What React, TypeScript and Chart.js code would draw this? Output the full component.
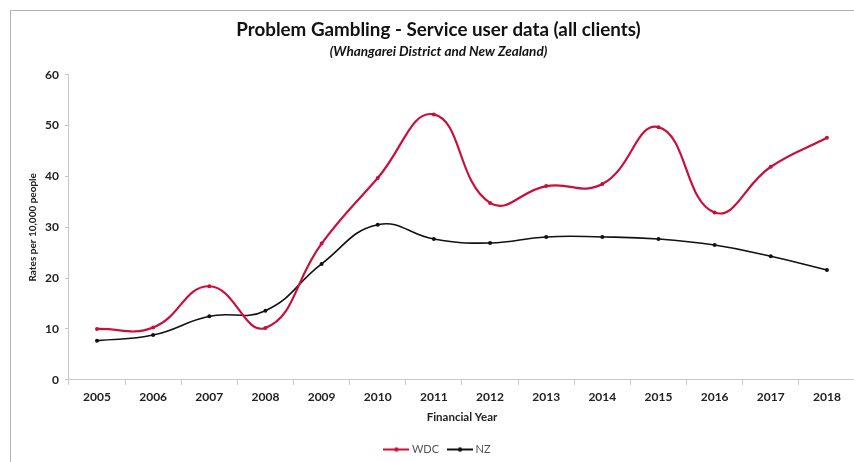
import React, { useEffect, useRef } from "react";
import { Chart, registerables } from "chart.js";

Chart.register(...registerables);

const years = ["2005", "2006", "2007", "2008", "2009", "2010", "2011", "2012", "2013", "2014", "2015", "2016", "2017", "2018"];
const wdc = [10.0, 10.3, 18.4, 10.2, 26.8, 39.7, 52.2, 34.8, 38.1, 38.5, 49.7, 32.9, 41.9, 47.6];
const nz = [7.7, 8.8, 12.5, 13.6, 22.8, 30.5, 27.7, 26.9, 28.1, 28.1, 27.7, 26.5, 24.3, 21.6];
const yTicks = [0, 10, 20, 30, 40, 50, 60];

const FONT = "Lato, 'Open Sans', sans-serif";
const WDC_COLOR = "#C8103A";
const NZ_COLOR = "#111111";

function legendIcon(color: string): HTMLCanvasElement {
  const c = document.createElement("canvas");
  c.width = 26;
  c.height = 8;
  const ctx = c.getContext("2d")!;
  ctx.strokeStyle = color;
  ctx.lineWidth = 2;
  ctx.beginPath();
  ctx.moveTo(0, 4);
  ctx.lineTo(26, 4);
  ctx.stroke();
  ctx.fillStyle = color;
  ctx.beginPath();
  ctx.arc(13, 4, 2.2, 0, Math.PI * 2);
  ctx.fill();
  return c;
}

const frame = {
  id: "frame",
  beforeDraw(chart: any) {
    const ctx = chart.ctx;
    ctx.save();
    ctx.fillStyle = "#ffffff";
    ctx.fillRect(0, 0, chart.width, chart.height);
    ctx.strokeStyle = "#b4b4b4";
    ctx.lineWidth = 1;
    ctx.beginPath();
    ctx.moveTo(10.5, chart.height);
    ctx.lineTo(10.5, 10.5);
    ctx.lineTo(chart.width, 10.5);
    ctx.stroke();
    ctx.restore();
  },
};

export default function App() {
  const ref = useRef<HTMLCanvasElement>(null);
  useEffect(() => {
    const icons = [legendIcon(WDC_COLOR), legendIcon(NZ_COLOR)];
    const chart = new Chart(ref.current!, {
      type: "line",
      data: {
        labels: years,
        datasets: [
          {
            label: "WDC",
            data: wdc,
            borderColor: WDC_COLOR,
            backgroundColor: WDC_COLOR,
            borderWidth: 2.2,
            pointRadius: 2,
            pointBorderWidth: 0,
            tension: 0.45,
          },
          {
            label: "NZ",
            data: nz,
            borderColor: NZ_COLOR,
            backgroundColor: NZ_COLOR,
            borderWidth: 1.6,
            pointRadius: 2,
            pointBorderWidth: 0,
            tension: 0.45,
          },
        ],
      },
      options: {
        responsive: false,
        animation: false,
        devicePixelRatio: 1,
        layout: { padding: { left: 18, right: 0, top: 0, bottom: 0 } },
        plugins: {
          title: {
            display: true,
            text: "Problem Gambling - Service user data (all clients)",
            color: "#111",
            font: { family: FONT, size: 18.8, weight: "bold" },
            padding: { top: 19, bottom: 2 },
          },
          subtitle: {
            display: true,
            text: "(Whangarei District and New Zealand)",
            color: "#111",
            font: { family: FONT, size: 13.5, weight: "bold", style: "italic" },
            padding: { top: 0, bottom: 15 },
          },
          legend: {
            position: "bottom",
            labels: {
              usePointStyle: true,
              pointStyleWidth: 20,
              boxHeight: 8,
              color: "#555",
              font: { family: FONT, size: 11 },
              padding: 11,
              generateLabels: (ch: any) =>
                ch.data.datasets.map((d: any, i: number) => ({
                  text: d.label,
                  pointStyle: icons[i],
                  fillStyle: d.borderColor,
                  strokeStyle: d.borderColor,
                  fontColor: "#555",
                  lineWidth: 0,
                  hidden: false,
                  datasetIndex: i,
                })),
            },
          },
          tooltip: { enabled: false },
        },
        scales: {
          x: {
            offset: true,
            grid: {
              offset: true,
              drawOnChartArea: false,
              drawTicks: true,
              tickLength: 5,
              color: "#c8c8c8",
            },
            border: { color: "#c8c8c8" },
            ticks: {
              color: "#222",
              font: { family: FONT, size: 12, weight: "bold" },
              maxRotation: 0,
              padding: 5,
            },
            title: {
              display: true,
              text: "Financial Year",
              color: "#222",
              font: { family: FONT, size: 11.5, weight: "bold" },
              padding: { top: 1, bottom: 9 },
            },
          },
          y: {
            min: 0,
            max: 60,
            afterBuildTicks: (axis: any) => {
              axis.ticks = yTicks.map((v) => ({ value: v }));
            },
            grid: {
              drawOnChartArea: false,
              drawTicks: true,
              tickLength: 4,
              color: "#c8c8c8",
            },
            border: { color: "#c8c8c8" },
            ticks: {
              color: "#222",
              font: { family: FONT, size: 12, weight: "bold" },
              padding: 6,
            },
            title: {
              display: true,
              text: "Rates per 10,000 people",
              color: "#222",
              font: { family: FONT, size: 10, weight: "bold" },
              padding: { top: 9, bottom: 0 },
            },
          },
        },
      },
      plugins: [frame],
    });
    return () => chart.destroy();
  }, []);
  return (
    <div style={{ position: "absolute", left: 0, top: 0, width: 854, height: 462, overflow: "hidden", background: "#fff" }}>
      <canvas ref={ref} width={859} height={465} style={{ display: "block" }} />
    </div>
  );
}
